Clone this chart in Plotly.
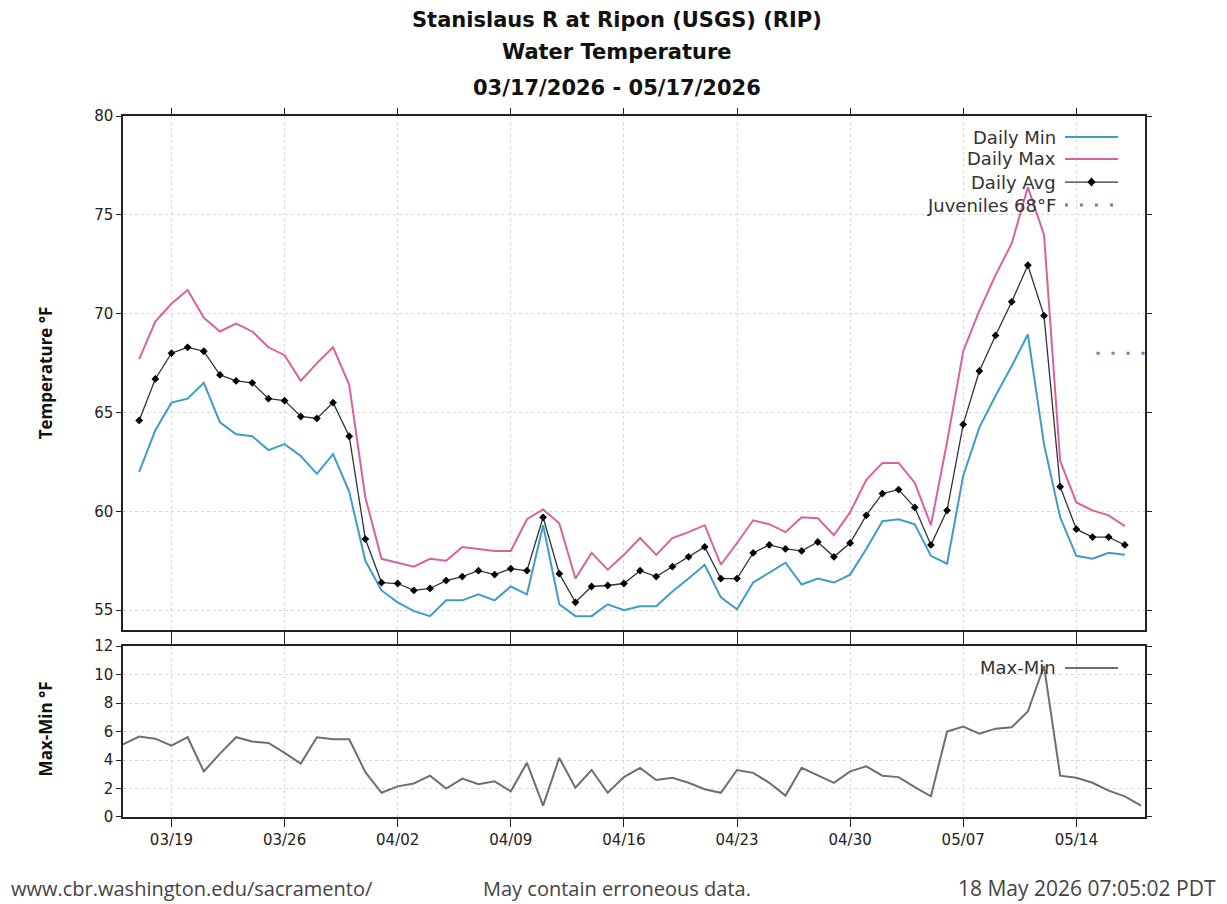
import plotly.graph_objects as go
import pandas as pd

# ---------------- data ----------------
days = pd.date_range("2026-03-17", periods=62, freq="D")
daily_avg = [64.6, 66.7, 68.0, 68.3, 68.1, 66.9, 66.6, 66.5, 65.7, 65.6,
             64.8, 64.7, 65.5, 63.8, 58.6, 56.4, 56.35, 56.0, 56.1, 56.5,
             56.7, 57.0, 56.8, 57.1, 57.0, 59.7, 56.85, 55.4, 56.2, 56.25,
             56.35, 57.0, 56.7, 57.2, 57.7, 58.2, 56.6, 56.6, 57.9, 58.3,
             58.1, 58.0, 58.45, 57.7, 58.4, 59.8, 60.9, 61.1, 60.2, 58.3,
             60.05, 64.4, 67.1, 68.9, 70.6, 72.45, 69.9, 61.25, 59.1, 58.7,
             58.7, 58.3]
daily_max = [67.7, 69.6, 70.5, 71.2, 69.8, 69.1, 69.5, 69.1, 68.3, 67.9,
             66.6, 67.5, 68.3, 66.4, 60.7, 57.6, 57.4, 57.2, 57.6, 57.5,
             58.2, 58.1, 58.0, 58.0, 59.6, 60.1, 59.4, 56.6, 57.9, 57.05,
             57.8, 58.65, 57.8, 58.65, 58.95, 59.3, 57.3, 58.4, 59.55, 59.35,
             58.95, 59.7, 59.65, 58.8, 59.95, 61.6, 62.45, 62.45, 61.45, 59.3,
             63.5, 68.1, 70.15, 71.95, 73.55, 76.4, 74.0, 62.55, 60.45, 60.05,
             59.8, 59.25]
daily_min = [62.0, 64.1, 65.5, 65.7, 66.5, 64.5, 63.9, 63.8, 63.1, 63.4,
             62.8, 61.9, 62.9, 61.0, 57.5, 56.0, 55.4, 54.95, 54.7, 55.5,
             55.5, 55.8, 55.5, 56.2, 55.8, 59.3, 55.3, 54.7, 54.7, 55.3,
             55.0, 55.2, 55.2, 55.95, 56.6, 57.3, 55.65, 55.05, 56.4, 56.9,
             57.4, 56.3, 56.6, 56.4, 56.8, 58.1, 59.5, 59.6, 59.35, 57.75,
             57.35, 61.8, 64.25, 65.85, 67.35, 68.95, 63.4, 59.7, 57.75, 57.6,
             57.9, 57.8]

range_days = pd.date_range("2026-03-16", periods=64, freq="D")
max_min = [5.1, 5.65, 5.5, 5.0, 5.6, 3.2, 4.45, 5.6, 5.3, 5.2,
           4.5, 3.75, 5.6, 5.45, 5.45, 3.15, 1.7, 2.15, 2.35, 2.9,
           2.0, 2.7, 2.3, 2.5, 1.8, 3.8, 0.8, 4.15, 2.05, 3.3,
           1.7, 2.8, 3.45, 2.6, 2.75, 2.4, 1.95, 1.7, 3.3, 3.1,
           2.4, 1.5, 3.45, 2.95, 2.4, 3.2, 3.55, 2.9, 2.8, 2.1,
           1.45, 6.0, 6.35, 5.85, 6.2, 6.3, 7.4, 10.6, 2.9, 2.75,
           2.4, 1.85, 1.45, 0.8]

juv_days = ["2026-05-15 06:00", "2026-05-18 06:00"]
juv_temp = [68, 68]

tick_days = list(pd.date_range("2026-03-19", periods=9, freq="7D"))
tick_labels = [d.strftime("%m/%d") for d in tick_days]
temp_ticks = [55, 60, 65, 70, 75, 80]
range_ticks = [0, 2, 4, 6, 8, 10, 12]

# ---------------- style ----------------
FONT = "DejaVu Sans"
TFONT = "Open Sans"
C_MIN = "#3d9dc6"
C_MAX = "#d9619f"
C_AVG = "#000000"
C_JUV = "#a066b8"
C_RNG = "#6e6e6e"
x_range = ["2026-03-16 00:00", "2026-05-18 06:00"]

fig = go.Figure()
fig.add_trace(go.Scatter(x=days, y=daily_min, mode="lines", name="Daily Min",
                         line=dict(color=C_MIN, width=2), xaxis="x", yaxis="y"))
fig.add_trace(go.Scatter(x=days, y=daily_max, mode="lines", name="Daily Max",
                         line=dict(color=C_MAX, width=2), xaxis="x", yaxis="y"))
fig.add_trace(go.Scatter(x=days, y=daily_avg, mode="lines+markers", name="Daily Avg",
                         line=dict(color="#333333", width=1.3),
                         marker=dict(symbol="diamond", size=6, color=C_AVG),
                         xaxis="x", yaxis="y"))
fig.add_trace(go.Scatter(x=juv_days, y=juv_temp, mode="lines", name="Juveniles 68°F",
                         line=dict(color=C_JUV, width=3, dash="3px,12px"),
                         xaxis="x", yaxis="y"))
fig.add_trace(go.Scatter(x=range_days, y=max_min, mode="lines", name="Max-Min",
                         line=dict(color=C_RNG, width=2), xaxis="x2", yaxis="y2"))

axis_common = dict(showline=True, linecolor="#222222", linewidth=1.5, mirror="ticks",
                   ticks="outside", tickcolor="#222222", showgrid=True,
                   gridcolor="#d8d8d8", griddash="dot", gridwidth=1, zeroline=False,
                   tickfont=dict(family=FONT, size=15, color="#222222"))

fig.update_layout(
    width=1227, height=904,
    margin=dict(l=123, r=82, t=116, b=87),
    paper_bgcolor="white", plot_bgcolor="white",
    showlegend=False,
    font=dict(family=FONT, color="#222222"),
    xaxis=dict(axis_common, type="date", range=x_range, domain=[0, 1], anchor="y",
               tickvals=tick_days, ticktext=tick_labels, showticklabels=False,
               ticklen=6, matches="x2"),
    yaxis=dict(axis_common, range=[54, 80], domain=[0.2668, 1], anchor="x",
               tickvals=temp_ticks, ticklen=5),
    xaxis2=dict(axis_common, type="date", range=x_range, domain=[0, 1], anchor="y2",
                tickvals=tick_days, ticktext=tick_labels, ticklen=8),
    yaxis2=dict(axis_common, range=[0, 12], domain=[0, 0.2439], anchor="x2",
                tickvals=range_ticks, ticklen=5),
)

ann = []
# titles
for txt, yp in [("Stanislaus R at Ripon (USGS) (RIP)", 1.137),
                ("Water Temperature", 1.091),
                ("03/17/2026 - 05/17/2026", 1.040)]:
    ann.append(dict(text="<b>%s</b>" % txt, x=0.483, y=yp, xref="paper", yref="paper",
                    showarrow=False, xanchor="center", yanchor="middle",
                    font=dict(family=FONT, size=21, color="#111111")))
# axis titles
ann.append(dict(text="<b>Temperature °F</b>", x=-0.0763, y=0.633, xref="paper", yref="paper",
                xanchor="center", yanchor="middle",
                textangle=-90, showarrow=False, font=dict(family=TFONT, size=17, color="#111111")))
ann.append(dict(text="<b>Max-Min °F</b>", x=-0.0763, y=0.125, xref="paper", yref="paper",
                xanchor="center", yanchor="middle",
                textangle=-90, showarrow=False, font=dict(family=TFONT, size=17, color="#111111")))
# footer
ann.append(dict(text="www.cbr.washington.edu/sacramento/", x=-0.112, y=-0.1013,
                xref="paper", yref="paper", xanchor="left", yanchor="middle", showarrow=False,
                font=dict(family=TFONT, size=20, color="#444444")))
ann.append(dict(text="May contain erroneous data.", x=0.483, y=-0.1013,
                xref="paper", yref="paper", xanchor="center", yanchor="middle", showarrow=False,
                font=dict(family=TFONT, size=20, color="#444444")))
ann.append(dict(text="18 May 2026 07:05:02 PDT", x=1.071, y=-0.1013,
                xref="paper", yref="paper", xanchor="right", yanchor="middle", showarrow=False,
                font=dict(family=TFONT, size=21, color="#444444")))

# manual legends (text right, sample on right)
shapes = []
leg_x_text = 0.915
leg_x0, leg_x1 = 0.9217, 0.9736
legend_items = [("Daily Min", 0.970, dict(color=C_MIN, width=2), False),
                ("Daily Max", 0.9387, dict(color=C_MAX, width=2), False),
                ("Daily Avg", 0.9058, dict(color="#333333", width=1.3), True),
                ("Juveniles 68°F", 0.873, dict(color=C_JUV, width=3, dash="3px,12px"), False),
                ("Max-Min", 0.2126, dict(color=C_RNG, width=2), False)]
for name, yp, ln, mk in legend_items:
    ann.append(dict(text=name, x=leg_x_text, y=yp, xref="paper", yref="paper",
                    xanchor="right", yanchor="middle", showarrow=False,
                    font=dict(family=FONT, size=18, color="#333333")))
    shapes.append(dict(type="line", xref="paper", yref="paper", x0=leg_x0, x1=leg_x1,
                       y0=yp, y1=yp, line=ln))
    if mk:
        xm = (leg_x0 + leg_x1) / 2
        dx, dy = 0.004, 0.0065
        shapes.append(dict(type="path", xref="paper", yref="paper",
                           path="M %f,%f L %f,%f L %f,%f L %f,%f Z" % (
                               xm - dx, yp, xm, yp + dy, xm + dx, yp, xm, yp - dy),
                           fillcolor="#000000", line=dict(color="#000000", width=0)))

fig.update_layout(annotations=ann, shapes=shapes)
fig.write_html("out.html")
